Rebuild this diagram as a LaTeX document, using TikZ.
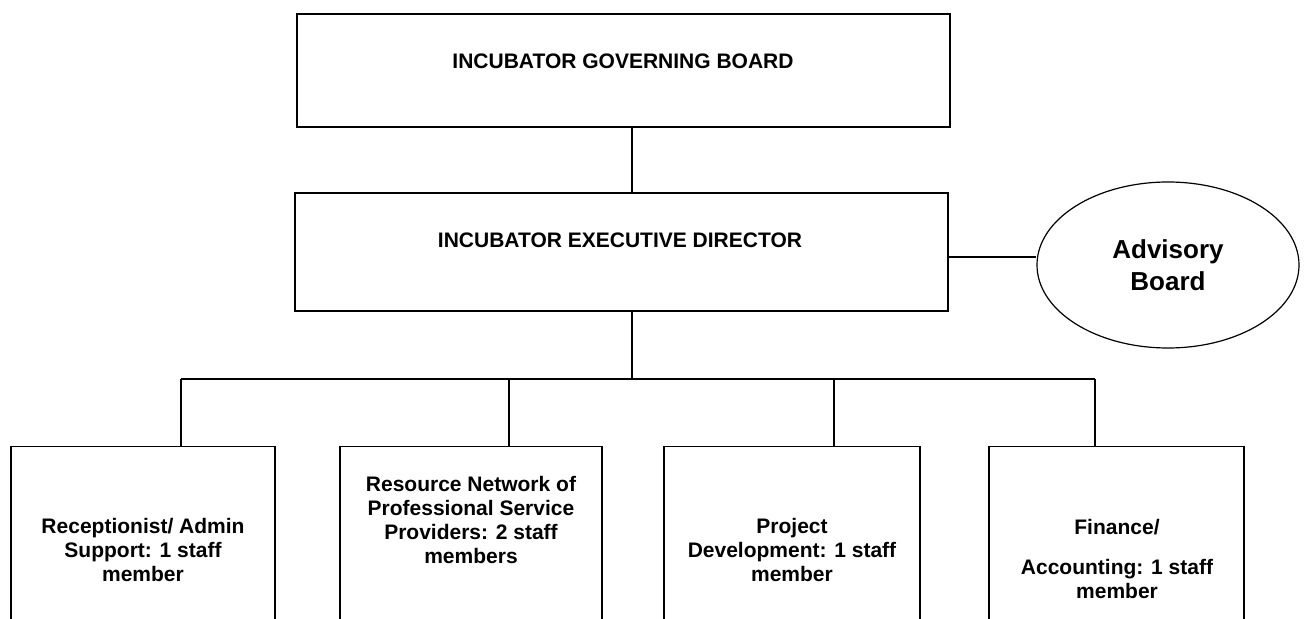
\documentclass[tikz,border=0pt]{standalone}
\usepackage{fontspec}
\setmainfont{Liberation Sans}
\usetikzlibrary{shapes.geometric}

\begin{document}
\begin{tikzpicture}[x=0.5pt,y=-0.5pt,
		box/.style={draw,line width=0.75pt,inner sep=0pt},
		boxtext/.style={font=\bfseries\fontsize{10.5pt}{12pt}\selectfont,align=center,inner sep=0pt},
		link/.style={line width=0.75pt}]
		\useasboundingbox (0,0) rectangle (1308,619);
		\clip (0,0) rectangle (1308,619);
		% board and director
		\node[box,minimum width=326.5pt,minimum height=56.5pt] (gov) at (623.5,70.5) {};
		\node[boxtext] (govtext) at (623,61) {INCUBATOR GOVERNING BOARD};
		\node[box,minimum width=326.5pt,minimum height=59pt] (exec) at (621.5,252) {};
		\node[boxtext] (exectext) at (620,240) {INCUBATOR EXECUTIVE DIRECTOR};
		\node[draw,ellipse,line width=0.6pt,minimum width=131pt,minimum height=83pt,inner sep=0pt,align=center,
			font=\bfseries\fontsize{13pt}{16pt}\selectfont] (advisory) at (1168,265) {Advisory\\Board};
		% staff boxes, running off the bottom
		\node[box,anchor=north,minimum width=132pt,minimum height=100pt] (recep) at (143,446) {};
		\node[box,anchor=north,minimum width=131pt,minimum height=100pt] (network) at (471,446) {};
		\node[box,anchor=north,minimum width=128pt,minimum height=100pt] (project) at (792,446) {};
		\node[box,anchor=north,minimum width=127.5pt,minimum height=100pt] (finance) at (1116.5,446) {};
		\node[boxtext] (receptext) at (143,550) {Receptionist/ Admin\\Support: 1 staff\\member};
		\node[boxtext] (networktext) at (471,520) {Resource Network of\\Professional Service\\Providers: 2 staff\\members};
		\node[boxtext] (projecttext) at (792,550) {Project\\Development: 1 staff\\member};
		\node[boxtext] (financetext) at (1117,559) {Finance/\\[8pt]Accounting: 1 staff\\member};
		% connectors
		\coordinate (spine) at (632,379);
		\coordinate (drop1) at (181,379);
		\coordinate (drop2) at (509,379);
		\coordinate (drop3) at (834,379);
		\coordinate (drop4) at (1095,379);
		\draw[link] (gov.south -| spine) -- (exec.north -| spine);
		\draw[link] (exec.south -| spine) -- (spine);
		\draw[link] ([yshift=-2.5pt]exec.east) -- ([yshift=-2.5pt]exec.east -| advisory.west);
		\draw[link] (drop1) -- (drop4);
		\foreach \n/\d in {recep/drop1,network/drop2,project/drop3,finance/drop4}
			\draw[link] (\d) -- (\d |- \n.north);
	\end{tikzpicture}
\end{document}
